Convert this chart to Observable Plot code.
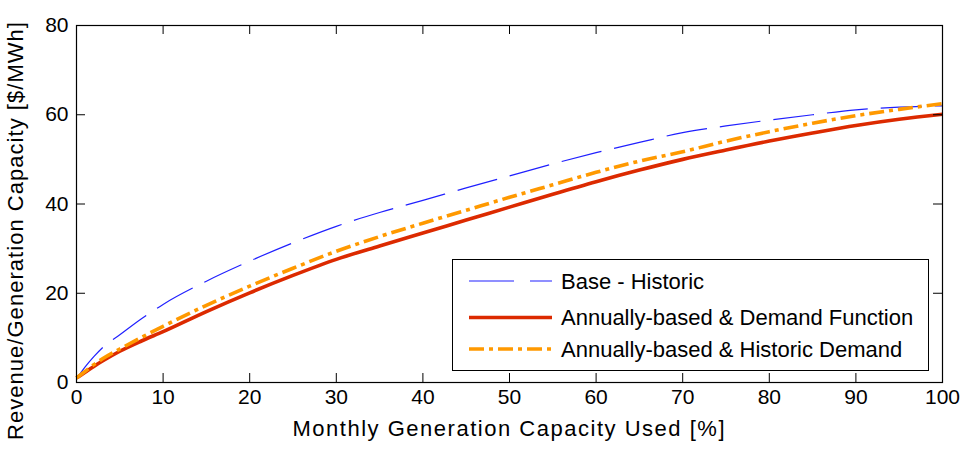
<!DOCTYPE html>
<html><head><meta charset="utf-8">
<script src="https://cdn.jsdelivr.net/npm/d3@7"></script>
<script src="https://cdn.jsdelivr.net/npm/@observablehq/plot@0.6"></script>
<style>
html,body{margin:0;padding:0;background:#fff;}
#wrap{position:relative;width:963px;height:452px;font-family:"Liberation Sans",Arial,Helvetica,sans-serif;}
#legend{position:absolute;left:452px;top:259px;width:477px;height:112px;border:1px solid #000;background:#fff;box-sizing:border-box;}
#legend svg{display:block;}
</style></head><body><div id="wrap"></div>
<script>
// Monthly generation capacity used [%]
const capacity = [0,1,2,3,5,7.5,10,15,20,25,30,35,40,45,50,55,60,65,70,75,80,85,90,95,100];
// Revenue / generation capacity [$/MWh]
const baseHistoric = [0.8,3.5,5.8,7.8,10.7,14.3,17.5,22.7,27.2,31.3,35.0,38.1,40.8,43.6,46.3,49.0,51.5,53.8,56.0,57.5,58.8,60.0,61.1,61.7,62.0];
const demandFunction = [1.0,2.3,3.6,4.8,7.0,9.3,11.4,15.9,20.1,24.0,27.6,30.6,33.5,36.4,39.3,42.2,45.0,47.6,50.0,52.1,54.1,55.9,57.6,59.0,60.1];
const historicDemand = [1.0,2.5,4.0,5.3,7.5,10.1,12.6,17.3,21.6,25.6,29.4,32.7,35.7,38.6,41.5,44.3,47.1,49.6,51.7,54.1,56.2,58.1,59.8,61.2,62.5];

const seriesNames = ["Base - Historic","Annually-based & Demand Function","Annually-based & Historic Demand"];
const seriesColors = ["#2020ff","#dc2a00","#ff9900"];
const seriesWidths = [1.2,3.6,3.6];
const seriesDash = ["41,13",null,"15,5,4,5"];

const xTicks = [0,10,20,30,40,50,60,70,80,90,100];
const yTicks = [0,20,40,60,80];
const xLabel = "Monthly Generation Capacity Used [%]";
const yLabel = "Revenue/Generation Capacity [$/MWh]";

const W = 963, H = 452;
const mL = 76, mR = 21, mT = 25, mB = 70;
const frameW = W - mL - mR, frameH = H - mT - mB;
const tickLen = 9;

const seriesValues = [baseHistoric, demandFunction, historicDemand];
const rows = [];
seriesNames.forEach((name, s) => capacity.forEach((c, i) => rows.push({series: name, x: c, y: seriesValues[s][i]})));

const lineMarks = seriesNames.map((name, s) =>
  Plot.line(rows.filter(r => r.series === name), {
    x: "x", y: "y", stroke: seriesColors[s], strokeWidth: seriesWidths[s],
    strokeDasharray: seriesDash[s], curve: "monotone-x", strokeLinecap: "butt"
  })
);

const chart = Plot.plot({
  width: W, height: H,
  marginLeft: mL, marginRight: mR, marginTop: mT, marginBottom: mB,
  style: {fontFamily: '"Liberation Sans", Arial, Helvetica, sans-serif', color: "#000", background: "#fff"},
  x: {domain: [0, 100], axis: null},
  y: {domain: [0, 80], axis: null},
  marks: [
    ...lineMarks,
    Plot.frame({stroke: "#000", strokeWidth: 1.2}),
    // inward ticks on all four sides
    Plot.tickX(xTicks, {x: d => d, insetTop: frameH - tickLen, stroke: "#000"}),
    Plot.tickX(xTicks, {x: d => d, insetBottom: frameH - tickLen, stroke: "#000"}),
    Plot.tickY(yTicks, {y: d => d, insetRight: frameW - tickLen, stroke: "#000"}),
    Plot.tickY(yTicks, {y: d => d, insetLeft: frameW - tickLen, stroke: "#000"}),
    // tick labels
    Plot.text(xTicks, {x: d => d, frameAnchor: "bottom", dy: 21, text: d => String(d), fontSize: 21, fill: "#000"}),
    Plot.text(yTicks, {y: d => d, frameAnchor: "left", dx: -8, textAnchor: "end", text: d => String(d), fontSize: 21, fill: "#000"}),
    // axis labels (start-anchored, stretched to the reference's extent)
    Plot.text([xLabel], {frameAnchor: "bottom", dx: -217, dy: 53, textAnchor: "start", text: d => d, fontSize: 22, fill: "#000"}),
    Plot.text([yLabel], {frameAnchor: "left", rotate: -90, dx: -61, dy: 236, textAnchor: "start", text: d => d, fontSize: 22, fill: "#000"})
  ]
});

d3.select(chart).selectAll("text").each(function() {
  if (this.textContent === xLabel) { this.setAttribute("textLength", 432); this.setAttribute("lengthAdjust", "spacing"); }
  if (this.textContent === yLabel) { this.setAttribute("textLength", 418); this.setAttribute("lengthAdjust", "spacing"); }
});

const wrap = document.getElementById("wrap");
wrap.appendChild(chart);

// legend (inside the axes, lower right)
const legend = document.createElement("div");
legend.id = "legend";
wrap.appendChild(legend);
const rowY = [21, 57.5, 89];
const lsvg = d3.select(legend).append("svg").attr("width", 475).attr("height", 110);
seriesNames.forEach((name, s) => {
  lsvg.append("line").attr("x1", 16).attr("x2", 99).attr("y1", rowY[s]).attr("y2", rowY[s])
    .attr("stroke", seriesColors[s]).attr("stroke-width", seriesWidths[s])
    .attr("stroke-dasharray", s === 0 ? "45,16" : seriesDash[s]);
  lsvg.append("text").attr("x", 108).attr("y", rowY[s]).attr("dy", "0.36em")
    .attr("font-size", 22).attr("fill", "#000")
    .attr("font-family", '"Liberation Sans", Arial, Helvetica, sans-serif')
    .text(name);
});
</script>
</body></html>
